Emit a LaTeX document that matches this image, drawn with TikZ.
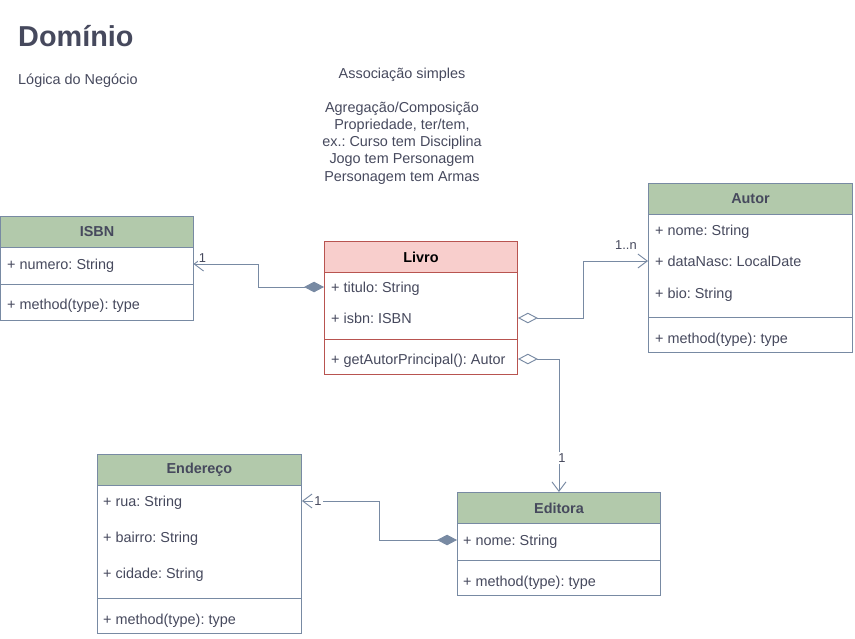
\documentclass[tikz,border=0pt]{standalone}
\usepackage{fontspec}
\setmainfont{Liberation Sans}
\frenchspacing
\definecolor{umlgreen}{RGB}{178,201,171}
\definecolor{umlline}{RGB}{120,138,163}
\definecolor{umltext}{RGB}{70,73,93}
\definecolor{livrofill}{RGB}{248,206,204}
\definecolor{livroline}{RGB}{184,84,80}
\usetikzlibrary{arrows.meta,calc}

\tikzset{
  txt/.style={font=\fontsize{12.3}{14.6}\selectfont, text=umltext},
  classbox/.style={draw=umlline, fill=white, line width=0.8pt, inner sep=0pt, anchor=north west},
  classhead/.style={classbox, fill=umlgreen, minimum height=0.93cm, font=\bfseries\fontsize{12.3}{14.6}\selectfont, text=umltext},
  attr/.style={txt, anchor=west, inner sep=0pt, text height=8.8pt, text depth=0pt},
  lbl/.style={font=\fontsize{11}{13}\selectfont, text=umltext, fill=white, inner sep=1pt},
  assoc/.style={draw=umlline, line width=0.8pt},
  comp/.style={assoc, {Diamond[length=17pt,width=9pt,fill=umlline]}-{Straight Barb[length=8pt,width=12pt]}},
  aggr/.style={assoc, {Diamond[open,length=17pt,width=9pt,fill=white]}-{Straight Barb[length=8pt,width=12pt]}}
}

\begin{document}
\begin{tikzpicture}[x=0.03cm, y=-0.03cm]
\useasboundingbox (0,0) rectangle (855,639);

% Titulo e notas
\node[anchor=west, inner sep=0pt, font=\bfseries\fontsize{24.6}{28}\selectfont, text=umltext] (dominio) at (18,36) {Domínio};
\node[txt, anchor=west, inner sep=0pt] (logica) at (18,81) {Lógica do Negócio};
\node[txt, align=center] (nota) at (402,126) {Associação simples\\[14.6pt]
  Agregação/Composição\\ Propriedade, ter/tem,\\ ex.: Curso tem Disciplina\\
  Jogo tem Personagem\\ Personagem tem Armas};

% Classes verdes: nome/titulo/x/y/largura/altura/separador
\foreach \n/\t/\x/\y/\w/\h/\s in {isbn/ISBN/0.5/216/192/104/284,
    autor/Autor/648/183/204/169/317,
    endereco/Endereço/97/454/204/179/598,
    editora/Editora/457/492/203/103/560} {
  \node[classbox, minimum width=\w*0.03cm, minimum height=\h*0.03cm] (\n) at (\x,\y) {};
  \node[classhead, minimum width=\w*0.03cm] (\n-h) at (\x,\y) {\t};
  \draw[umlline, line width=0.8pt] (\n.west |- 0,\s) -- (\n.east |- 0,\s);
}

% Livro
\node[classbox, draw=livroline, minimum width=5.79cm, minimum height=3.99cm] (livro) at (324,241) {};
\node[classhead, draw=livroline, fill=livrofill, text=black, minimum width=5.79cm] (livro-h) at (324,241) {Livro};
\draw[livroline, line width=0.8pt] (livro.west |- 0,339) -- (livro.east |- 0,339);

% Atributos e metodos
\foreach \n/\x/\y/\t in {isbn-numero/7/264/+ numero: String, isbn-m/7/304/+ method(type): type,
    livro-titulo/331/287/+ titulo: String, livro-isbn/331/318/+ isbn: ISBN,
    livro-get/331/359/+ getAutorPrincipal(): Autor,
    autor-nome/655/230/+ nome: String, autor-nasc/655/261/+ dataNasc: LocalDate,
    autor-bio/655/293/+ bio: String, autor-m/655/338/+ method(type): type,
    endereco-rua/103/501/+ rua: String, endereco-bairro/103/537/+ bairro: String,
    endereco-cidade/103/573/+ cidade: String, endereco-m/103/619/+ method(type): type,
    editora-nome/463/540/+ nome: String, editora-m/463/581/+ method(type): type} {
  \node[attr] (\n) at (\x,\y) {\t};
}

% Relacoes
\draw[comp] (livro-titulo -| livro.west)
  -| ($(livro-titulo -| livro.west)!0.5!(isbn-numero -| isbn.east)$)
  |- (isbn-numero -| isbn.east) node[lbl, xshift=7.7pt, yshift=5pt] {1};
\draw[aggr] (livro-isbn -| livro.east)
  -| ($(livro-isbn -| livro.east)!0.5!(autor-nasc -| autor.west)$)
  |- (autor-nasc -| autor.west) node[lbl, xshift=-18.8pt, yshift=13.7pt] {1..n};
\draw[aggr] (livro-get -| livro.east) -| (editora.north)
  node[lbl, xshift=2.5pt, yshift=29pt] {1};
\draw[comp] (editora-nome -| editora.west)
  -| ($(editora-nome -| editora.west)!0.5!(endereco-rua -| endereco.east)$)
  |- (endereco-rua -| endereco.east) node[lbl, xshift=13.7pt] {1};
\end{tikzpicture}
\end{document}
